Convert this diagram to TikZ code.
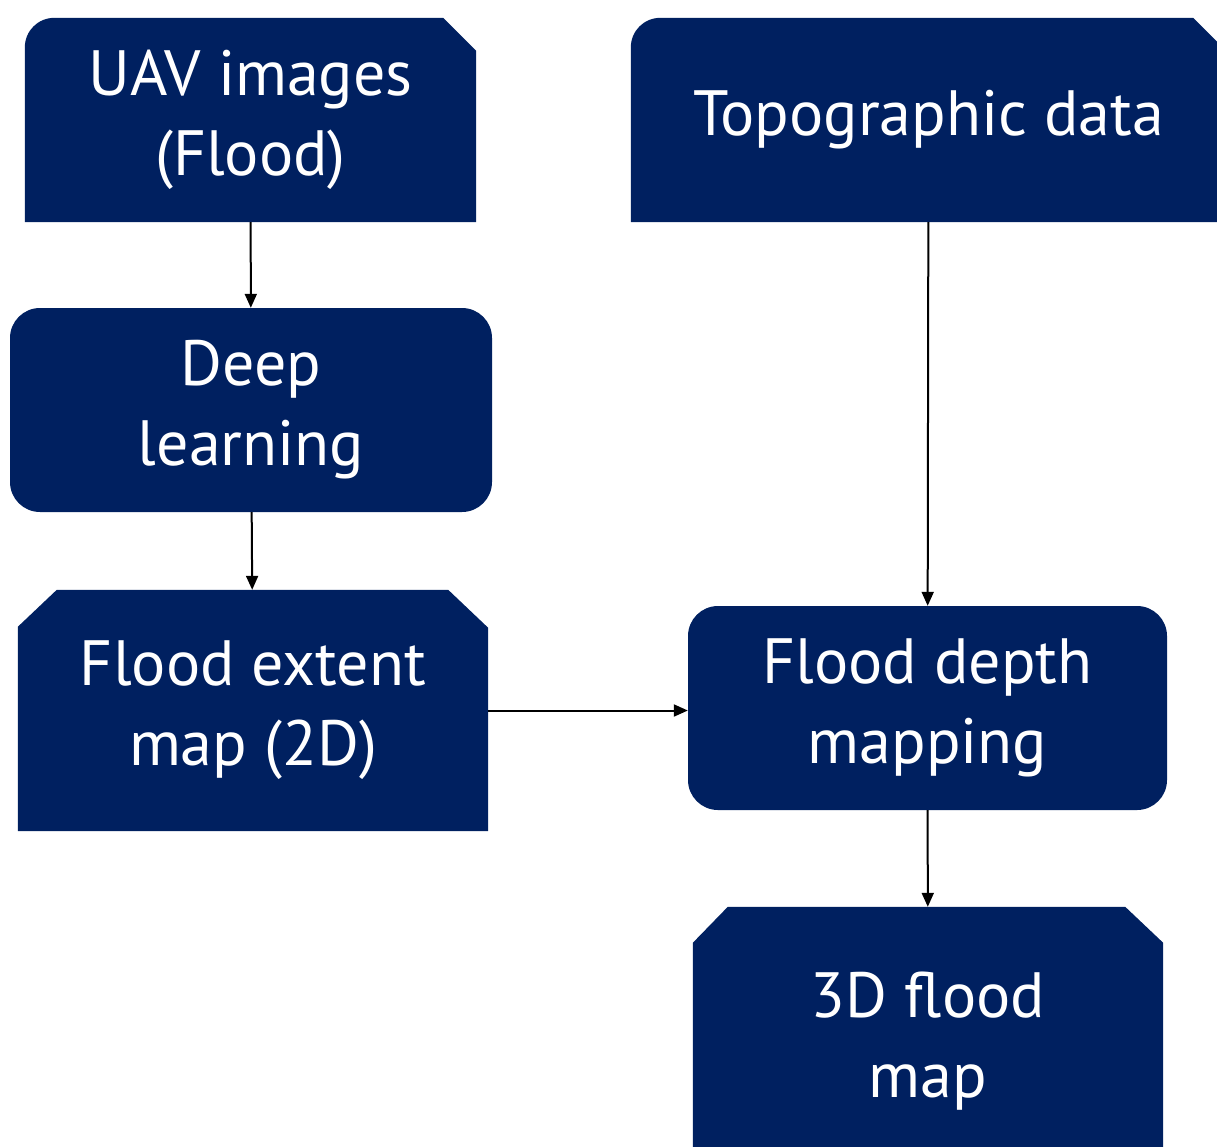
\documentclass[tikz,border=0pt]{standalone}
\usepackage{fontspec}
\setmainfont{PT Sans}
\usetikzlibrary{positioning,calc,arrows.meta,backgrounds}
\definecolor{navy}{RGB}{0,32,96}

\begin{document}
\begin{tikzpicture}[x=1pt, y=-1pt,
box/.style={inner sep=0pt, text=white, align=center, font=\fontsize{64}{80}\selectfont},
roundbox/.style={box, fill=navy, rounded corners=30pt},
conn/.style={line width=2pt, -{Triangle[length=14pt, width=12pt]}}]

\useasboundingbox (0,0) rectangle (1217,1146);

\node[box, minimum width=451pt, minimum height=204pt] (uav) at (250.5,120) {UAV images\\(Flood)};
\node[box, minimum width=595pt, minimum height=204pt] (topo) at (928.5,120) {Topographic data};
\node[roundbox, minimum width=482pt, minimum height=204pt] (deep) at (251,410) {Deep\\learning};
\node[box, minimum width=470pt, minimum height=241pt] (extent) at (253,710.5) {Flood extent\\map (2D)};
\node[roundbox, minimum width=479pt, minimum height=204pt] (depth) at (927.5,708) {Flood depth\\mapping};
\node[box, minimum width=470pt, minimum height=268pt] (map3d) at (928,1041) {3D flood\\map};

\begin{scope}[on background layer]
\fill[navy] (uav.south west) -- ($(uav.north west)+(0,30)$) .. controls ($(uav.north west)+(0,13)$) and ($(uav.north west)+(13,0)$) .. ($(uav.north west)+(30,0)$) -- ($(uav.north east)+(-33,0)$) -- ($(uav.north east)+(0,33)$) -- (uav.south east) -- cycle;
\fill[navy] (topo.south west) -- ($(topo.north west)+(0,30)$) .. controls ($(topo.north west)+(0,13)$) and ($(topo.north west)+(13,0)$) .. ($(topo.north west)+(30,0)$) -- ($(topo.north east)+(-33,0)$) -- ($(topo.north east)+(0,33)$) -- (topo.south east) -- cycle;
\fill[navy] (extent.south west) -- ($(extent.north west)+(0,37)$) -- ($(extent.north west)+(39,0)$) -- ($(extent.north east)+(-40,0)$) -- ($(extent.north east)+(0,38)$) -- (extent.south east) -- cycle;
\fill[navy] (map3d.south west) -- ($(map3d.north west)+(0,36)$) -- ($(map3d.north west)+(35,0)$) -- ($(map3d.north east)+(-38,0)$) -- ($(map3d.north east)+(0,36)$) -- (map3d.south east) -- cycle;
\end{scope}

\draw[conn] (uav) -- (deep);
\draw[conn] (deep) -- (extent);
\draw[conn] (topo) -- (depth);
\draw[conn] (extent) -- (extent -| depth.west);
\draw[conn] (depth) -- (map3d);

\end{tikzpicture}
\end{document}
